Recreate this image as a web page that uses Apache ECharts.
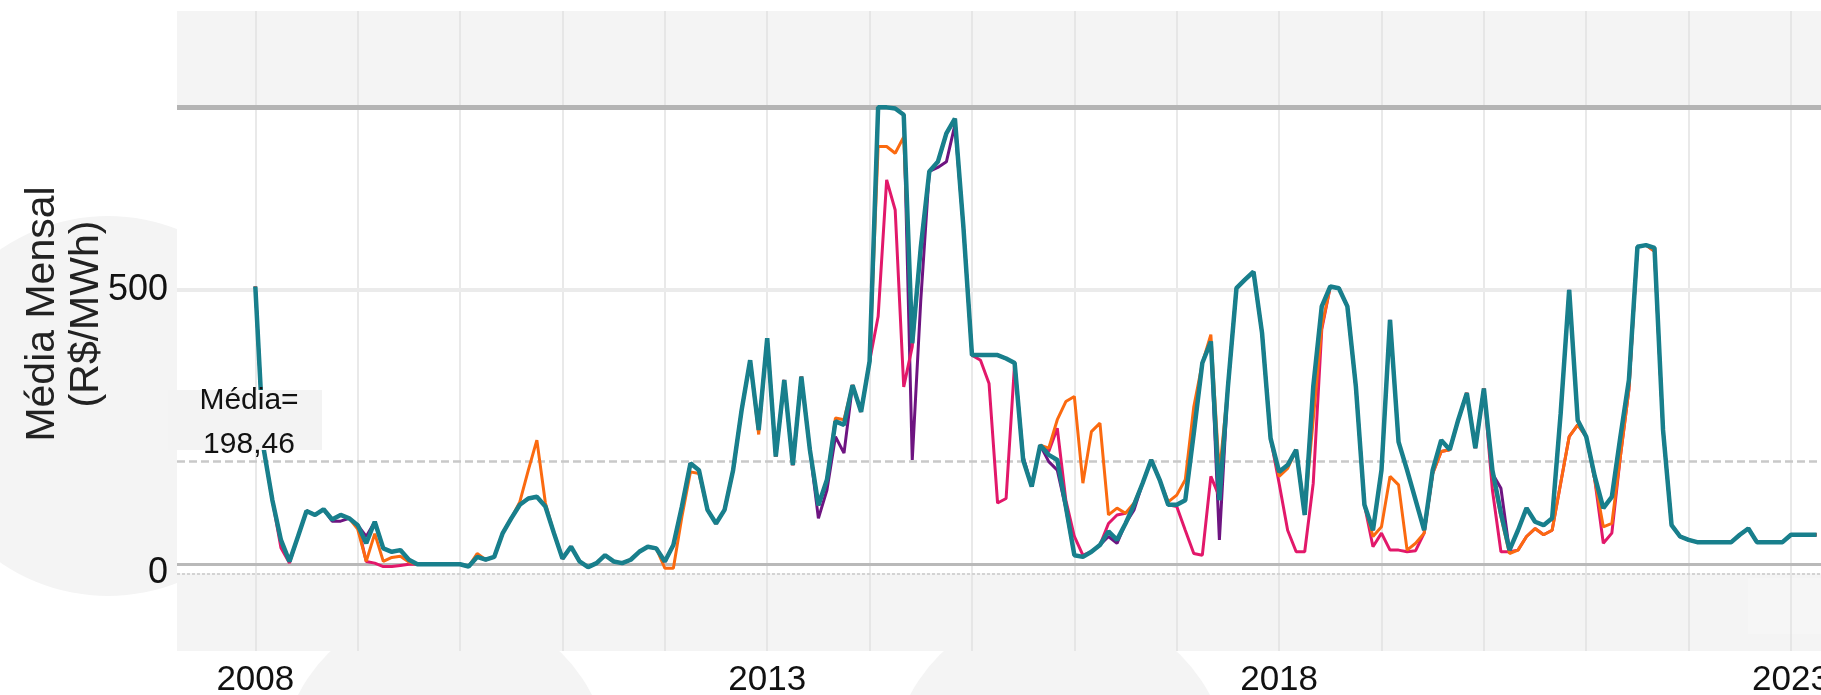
<!DOCTYPE html>
<html>
<head>
<meta charset="utf-8">
<script src="https://cdn.jsdelivr.net/npm/echarts@6/dist/echarts.min.js"></script>
<style>
html,body{margin:0;padding:0;background:#fff;}
#chart{width:1821px;height:695px;}
</style>
</head>
<body>
<div id="chart"></div>
<script>
// ---- data (monthly averages, R$/MWh), Jan 2008 .. Apr 2023 ----
const startYear = 2008;
const seriesSE = [
 506,218,129,59,21,65,110,103,113,95,103,97,
 85,53,91,44,38,41,24,16,16,16,16,16,
 16,12,29,24,29,71,97,121,132,135,118,71,
 26,47,21,11,18,32,21,18,24,38,47,44,
 21,50,118,194,182,112,88,112,182,288,376,253,
 415,206,341,191,347,218,120,165,268,262,332,285,
 374,822,822,820,809,406,575,709,726,776,802,610,
 385,385,385,385,379,371,200,153,226,209,200,118,
 32,29,38,50,74,59,88,121,159,200,165,121,
 121,129,247,371,409,129,329,503,518,532,424,238,
 179,191,218,103,329,471,506,503,471,329,121,76,
 182,447,232,182,129,76,182,235,218,271,318,221,
 326,182,106,41,76,115,91,85,97,282,500,270,
 241,171,115,135,241,341,576,579,574,253,85,65,
 59,55,55,55,55,55,68,79,55,55,55,55,
 68,68,68,68
];
const seriesS = [
 506,218,129,59,21,65,110,103,113,95,103,97,
 78,21,70,21,28,30,20,16,16,16,16,16,
 16,12,35,24,29,71,97,126,182,235,124,71,
 26,47,21,11,18,32,21,18,24,38,47,44,
 9,9,100,179,176,112,88,112,182,288,376,245,
 415,206,341,191,347,218,120,165,274,271,332,285,
 374,753,753,741,770,406,575,709,726,776,802,610,
 385,385,385,385,379,371,200,153,226,221,271,303,
 312,159,250,265,103,115,106,124,159,200,165,126,
 138,165,294,371,421,176,329,503,518,532,424,238,
 171,185,218,110,271,435,506,503,471,329,121,65,
 82,171,156,41,53,71,176,215,218,271,318,221,
 326,175,100,35,41,65,79,68,76,159,241,262,
 241,165,82,88,206,324,576,579,568,253,85,65,
 59,55,55,55,55,55,68,79,55,55,55,55,
 68,68,68,68
];
const seriesNE = [
 506,218,129,45,18,65,110,103,113,95,103,97,
 85,21,18,12,12,14,16,16,16,16,16,16,
 16,12,29,24,29,71,97,121,132,135,118,71,
 26,47,21,11,18,32,21,18,24,38,47,44,
 21,50,118,194,182,112,88,112,182,288,376,253,
 415,206,341,191,347,218,120,165,268,262,332,285,
 374,453,694,641,329,400,575,709,726,776,802,610,
 385,376,335,124,132,371,200,153,226,215,256,129,
 65,32,38,50,88,103,106,121,159,200,165,121,
 118,76,35,32,171,135,329,503,518,532,424,238,
 159,76,38,38,159,430,506,503,471,329,121,47,
 71,41,41,38,40,71,176,215,218,271,318,221,
 326,147,38,38,41,65,79,68,76,159,241,262,
 241,165,53,71,206,324,576,579,568,253,85,65,
 59,55,55,55,55,55,68,79,55,55,55,55,
 68,68,68,68
];
const seriesN = [
 506,218,129,59,21,65,110,103,113,92,92,97,
 85,65,91,44,38,41,24,16,16,16,16,16,
 16,12,29,24,29,71,97,121,132,135,118,71,
 26,47,21,11,18,32,21,18,24,38,47,44,
 21,50,118,194,182,112,88,112,182,288,376,253,
 415,206,341,191,347,218,97,147,241,212,332,285,
 374,822,822,820,809,200,482,709,716,726,791,610,
 385,385,385,385,379,371,206,153,226,197,182,115,
 32,29,38,50,65,53,88,112,159,200,165,121,
 121,129,247,371,409,59,329,503,518,532,424,238,
 179,191,218,103,329,471,506,503,471,329,121,76,
 182,447,232,182,129,76,182,235,218,271,318,221,
 326,176,150,40,76,115,91,85,97,282,500,270,
 241,171,115,135,241,341,576,579,574,253,85,65,
 59,55,55,55,55,55,68,79,55,55,55,55,
 68,68,68,68
];
const xTickLabels = [2008, 2013, 2018, 2023];
const yTickLabels = [0, 500];
const gridYears = [2008,2009,2010,2011,2012,2013,2014,2015,2016,2017,2018,2019,2020,2021,2022,2023];
const pldMax = 822.83;
const pldMin = 16;
const meanValue = 198.46;
const meanText = 'Média=\n198,46';
const yTitle = 'Média Mensal\n(R$/MWh)';

// ---- build ----
function toPoints(arr){ return arr.map((v,i)=>[startYear + i/12, v]); }
const FONT = '"Liberation Sans", Arial, Helvetica, sans-serif';

const chart = echarts.init(document.getElementById('chart'), null, {renderer:'canvas'});
const option = {
  animation: false,
  backgroundColor: '#ffffff',
  grid: { left: 177, right: 0, top: 11, bottom: 44, show: true, backgroundColor: '#f4f4f4', borderWidth: 0,
          containLabel: false, outerBoundsMode: 'none' },
  xAxis: {
    type: 'value', min: 2007.235, max: 2023.293,
    axisLine: {show:false}, axisTick: {show:false}, splitLine: {show:false},
    axisLabel: { customValues: xTickLabels, formatter: v => String(Math.round(v)), fontSize: 35, color: '#111', fontFamily: FONT, margin: 12 }
  },
  yAxis: {
    type: 'value', min: -137, max: 992,
    axisLine: {show:false}, axisTick: {show:false}, splitLine: {show:false},
    axisLabel: { customValues: yTickLabels, fontSize: 36, color: '#111', fontFamily: FONT, margin: 9 },
    name: yTitle, nameLocation: 'middle', nameRotate: 90, nameGap: 68, nameMoveOverlap: false,
    nameTextStyle: { fontSize: 41, color: '#222', fontFamily: FONT, lineHeight: 44, padding: [0,0,0,34] }
  },
  graphic: [
    { type: 'circle', z: -10, silent: true, shape: { cx: 108, cy: 406, r: 190 }, style: { fill: '#f4f4f4' } },
    { type: 'circle', z: -10, silent: true, shape: { cx: 445, cy: 770, r: 165 }, style: { fill: '#f4f4f4' } },
    { type: 'circle', z: -10, silent: true, shape: { cx: 1060, cy: 775, r: 170 }, style: { fill: '#f4f4f4' } },
    { type: 'rect', z: 1, silent: true, shape: { x: 1748, y: 578, width: 73, height: 56 }, style: { fill: '#f6f6f6' } },
    { type: 'rect', z: 100, silent: true, shape: { x: 168, y: 390, width: 154, height: 60 }, style: { fill: '#f3f3f3' } },
    { type: 'text', z: 101, silent: true, x: 249, y: 423,
      style: { text: meanText, fontSize: 30, fontFamily: FONT, fill: '#111', align: 'center', verticalAlign: 'middle', lineHeight: 44 } }
  ],
  series: [
    {
      name: 'N', type: 'line', z: 10, data: toPoints(seriesN), showSymbol: false, symbol: 'none',
      lineStyle: { color: '#6e1481', width: 3 }, itemStyle: {color:'#6e1481'},
      markArea: {
        silent: true, z: 1,
        itemStyle: { color: '#ffffff' },
        data: [[{ yAxis: 0 }, { yAxis: pldMax }]]
      },
      markLine: {
        silent: true, z: 5, symbol: ['none','none'], label: { show: false },
        data: [
          ...gridYears.map(y => ({ xAxis: y, lineStyle: { color: '#e2e2e2', width: 1.5, type: 'solid' } })),
          { yAxis: 500, lineStyle: { color: '#ebebeb', width: 4, type: 'solid' } },
          { yAxis: 0, lineStyle: { color: '#d3d3d3', width: 2, type: [3,2] } },
          { yAxis: pldMin, lineStyle: { color: '#b9b9b9', width: 3, type: 'solid' } },
          { yAxis: pldMax, lineStyle: { color: '#b4b4b4', width: 5, type: 'solid' } },
          { yAxis: meanValue, lineStyle: { color: '#c9c9c9', width: 2.5, type: [8,4] } }
        ]
      }
    },
    { name: 'NE', type: 'line', z: 11, data: toPoints(seriesNE), showSymbol: false, symbol: 'none',
      lineStyle: { color: '#e2186a', width: 3 }, itemStyle: {color:'#e2186a'} },
    { name: 'S', type: 'line', z: 12, data: toPoints(seriesS), showSymbol: false, symbol: 'none',
      lineStyle: { color: '#fb6a10', width: 3 }, itemStyle: {color:'#fb6a10'} },
    { name: 'SE/CO', type: 'line', z: 13, data: toPoints(seriesSE), showSymbol: false, symbol: 'none',
      lineStyle: { color: '#187f8c', width: 4.5 }, itemStyle: {color:'#187f8c'} }
  ]
};
chart.setOption(option);
</script>
</body>
</html>
